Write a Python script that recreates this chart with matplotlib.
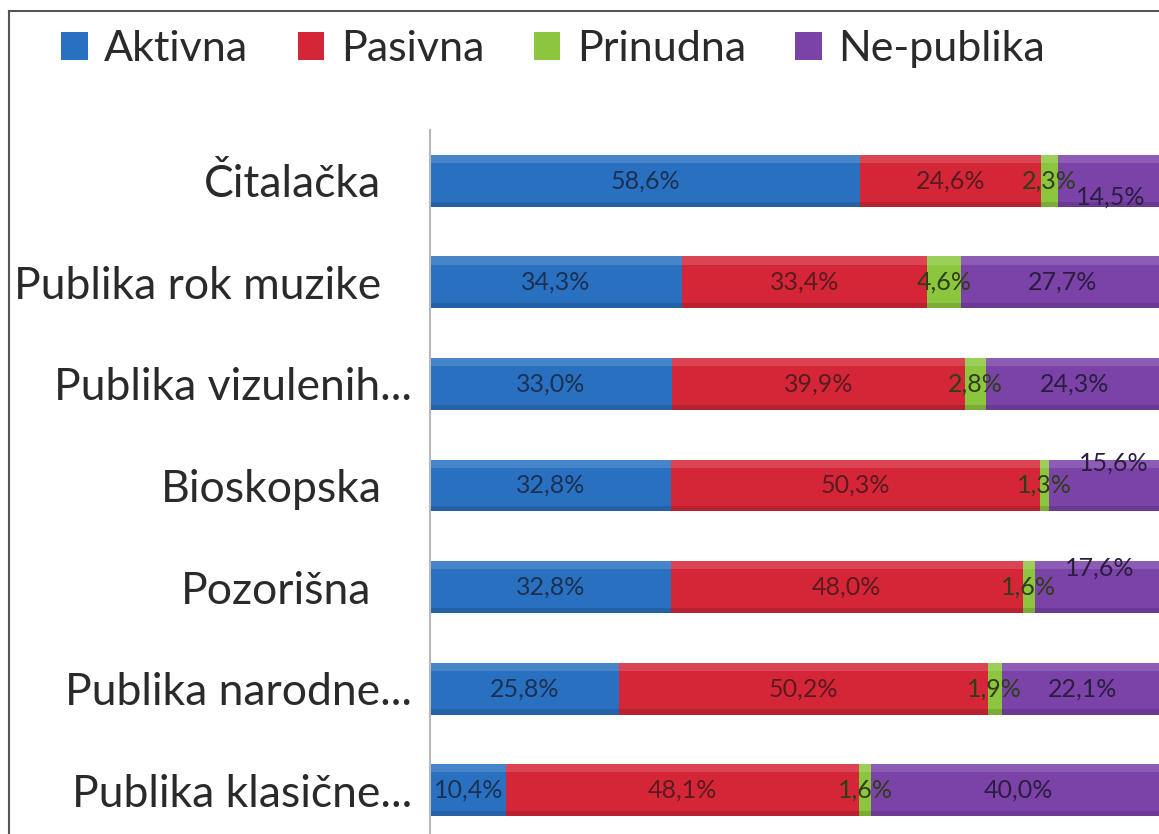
import matplotlib
import matplotlib.pyplot as plt
import numpy as np
from matplotlib.lines import Line2D
from matplotlib.patches import Patch
from matplotlib.transforms import ScaledTranslation

matplotlib.rcParams.update({"font.family": ["Lato", "DejaVu Sans"]})

categories = [
    "Čitalačka",
    "Publika rok muzike",
    "Publika vizulenih...",
    "Bioskopska",
    "Pozorišna",
    "Publika narodne...",
    "Publika klasične...",
]
series = ["Aktivna", "Pasivna", "Prinudna", "Ne-publika"]
aktivna = [58.6, 34.3, 33.0, 32.8, 32.8, 25.8, 10.4]
pasivna = [24.6, 33.4, 39.9, 50.3, 48.0, 50.2, 48.1]
prinudna = [2.3, 4.6, 2.8, 1.3, 1.6, 1.9, 1.6]
ne_publika = [14.5, 27.7, 24.3, 15.6, 17.6, 22.1, 40.0]

colors = ["#2a70c0", "#d42637", "#8cc63f", "#7b42a8"]
text_colors = ["#1b3152", "#5a1a20", "#2f3d18", "#2b1d40"]

# a few labels Excel pushed off-centre (category index, series index): (dx, dy)
label_shift = {(0, 3): (0.0, 0.16), (3, 3): (1.0, -0.22), (4, 3): (0.0, -0.19)}
# untruncated category labels sit a little further left in the original (px)
tick_shift = [-31, -31, 0, -30, -41, 0, 0]

W, H = 1159, 834
fig = plt.figure(figsize=(W / 100, H / 100), dpi=100)
fig.patch.set_facecolor("white")

x0, x1 = 430, 1164
y_top, y_bot = 130, 841
ax = fig.add_axes([x0 / W, 1 - y_bot / H, (x1 - x0) / W, (y_bot - y_top) / H])

data = [aktivna, pasivna, prinudna, ne_publika]
ypos = np.arange(len(categories))
left = np.zeros(len(categories))
for s, vals in enumerate(data):
    vals = np.array(vals)
    ax.barh(ypos, vals, left=left, height=0.51, color=colors[s], linewidth=0)
    # glossy look: light band on top, darker band at the bottom
    ax.barh(ypos - 0.215, vals, left=left, height=0.08, color="white", alpha=0.14, linewidth=0)
    ax.barh(ypos + 0.23, vals, left=left, height=0.05, color="black", alpha=0.13, linewidth=0)
    for i, v in enumerate(vals):
        dx, dy = label_shift.get((i, s), (0.0, 0.0))
        ax.text(left[i] + v / 2 + dx, ypos[i] + dy, f"{v:.1f}%".replace(".", ","),
                ha="center", va="center", fontsize=18, color=text_colors[s])
    left += vals

ax.set_xlim(0, 100)
ax.set_ylim(len(categories) - 0.5, -0.5)
ax.set_yticks(ypos)
ax.set_yticklabels(categories, fontsize=32, color="#2a2a2a")
ax.tick_params(axis="y", length=0, pad=13)
for lbl, dxp in zip(ax.get_yticklabels(), tick_shift):
    lbl.set_transform(lbl.get_transform() + ScaledTranslation(dxp / 100, 0, fig.dpi_scale_trans))
ax.set_xticks([])
for side in ["top", "right", "bottom"]:
    ax.spines[side].set_visible(False)
ax.spines["left"].set_color("#b8b8b8")
ax.spines["left"].set_linewidth(1.5)

handles = [Patch(facecolor=c, edgecolor="none") for c in colors]
fig.legend(handles, series, loc="upper left", bbox_to_anchor=(61 / W, 1 - 30 / H),
           ncol=4, frameon=False, fontsize=31, handlelength=0.62, handleheight=0.62,
           handletextpad=0.38, columnspacing=1.15, borderpad=0, borderaxespad=0,
           labelcolor="#2a2a2a")

# outer frame of the cropped picture
fig.add_artist(Line2D([9 / W, 9 / W], [0, 1 - 11 / H], color="#555555", lw=1.5))
fig.add_artist(Line2D([9 / W, 1], [1 - 11 / H, 1 - 11 / H], color="#555555", lw=1.5))

fig.savefig("out.png", dpi=100, facecolor="white")
